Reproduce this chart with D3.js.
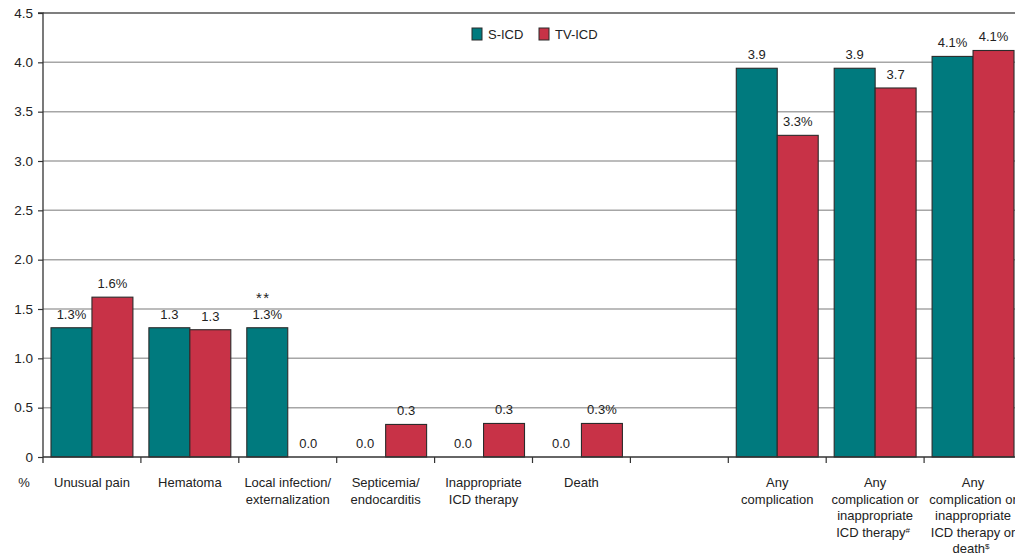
<!DOCTYPE html>
<html>
<head>
<meta charset="utf-8">
<script src="https://cdn.jsdelivr.net/npm/d3@7"></script>
<style>
  html, body { margin: 0; padding: 0; background: #fff; }
  svg { display: block; font-family: "Liberation Sans", Arial, Helvetica, sans-serif; }
</style>
</head>
<body>
<svg id="chart" width="1015" height="557"></svg>
<script>
// Complication rates (%) by outcome, S-ICD vs TV-ICD
const categories = [
  ["Unusual pain"],
  ["Hematoma"],
  ["Local infection/", "externalization"],
  ["Septicemia/", "endocarditis"],
  ["Inappropriate", "ICD therapy"],
  ["Death"],
  [],
  ["Any", "complication"],
  ["Any", "complication or", "inappropriate", "ICD therapy"],
  ["Any", "complication or", "inappropriate", "ICD therapy or", "death"]
];
// footnote mark appended to the last line of a category label
const footnotes = ["", "", "", "", "", "", "", "", "#", "$"];

const series = ["S-ICD", "TV-ICD"];
const sIcd  = [1.31, 1.31, 1.31, 0.0, 0.0, 0.0, null, 3.94, 3.94, 4.06];
const tvIcd = [1.62, 1.29, 0.0, 0.33, 0.34, 0.34, null, 3.26, 3.74, 4.12];
// whether the value label carries a "%" sign
const sPct  = [true, false, true, false, false, false, false, false, false, true];
const tvPct = [true, false, false, false, false, true, false, true, false, true];
// significance marks above bars
const sMarks = ["", "", "**", "", "", "", "", "", "", ""];

const yTicks = [0, 0.5, 1.0, 1.5, 2.0, 2.5, 3.0, 3.5, 4.0, 4.5];

const colors = { "S-ICD": "#007a7e", "TV-ICD": "#c83247" };

const svg = d3.select("#chart");
const margin = { left: 43, top: 13, bottom: 457 };
const step = 97.9;
const right = margin.left + step * categories.length;

const x = d3.scaleBand()
  .domain(d3.range(categories.length))
  .range([margin.left, right])
  .paddingInner(0).paddingOuter(0);

const xs = d3.scaleBand()
  .domain(series)
  .range([0, x.bandwidth()])
  .paddingInner(0)
  .paddingOuter(0.195);

const y = d3.scaleLinear().domain([0, 4.5]).range([margin.bottom, margin.top]);

// horizontal grid
svg.append("g")
  .selectAll("line")
  .data(yTicks.filter(d => d > 0))
  .join("line")
  .attr("x1", margin.left).attr("x2", right)
  .attr("y1", d => y(d)).attr("y2", d => y(d))
  .attr("stroke", d => d === 4.5 ? "#555" : "#a6a6a6")
  .attr("stroke-width", 1.5);

// y axis
const yAxis = svg.append("g")
  .attr("transform", `translate(${margin.left},0)`)
  .call(d3.axisLeft(y).tickValues(yTicks).tickSize(5).tickPadding(5)
    .tickFormat(d => d === 0 ? "0" : d3.format(".1f")(d)));
yAxis.select(".domain").attr("stroke", "#333").attr("stroke-width", 1.3)
  .attr("d", `M-5,${y(4.5)}H0V${margin.bottom + 6}`);
yAxis.selectAll(".tick line").attr("stroke", "#333").attr("stroke-width", 1.2);
yAxis.selectAll(".tick text").attr("fill", "#222").style("font-size", "13.5px")
  .style("font-family", "Liberation Sans, Arial, sans-serif");

// bars
const rows = categories.map((c, i) => ({ i, values: [
  { s: "S-ICD", v: sIcd[i], pct: sPct[i], mark: sMarks[i] },
  { s: "TV-ICD", v: tvIcd[i], pct: tvPct[i], mark: "" }
]}));

const groups = svg.append("g").selectAll("g")
  .data(rows)
  .join("g")
  .attr("transform", d => `translate(${x(d.i)},0)`);

groups.selectAll("rect")
  .data(d => d.values.filter(v => v.v !== null && v.v > 0))
  .join("rect")
  .attr("x", d => xs(d.s))
  .attr("width", xs.bandwidth())
  .attr("y", d => y(d.v))
  .attr("height", d => y(0) - y(d.v))
  .attr("fill", d => colors[d.s])
  .attr("stroke", "#2b2b2b")
  .attr("stroke-width", 1.1);

// value labels
groups.selectAll("text.val")
  .data(d => d.values.filter(v => v.v !== null))
  .join("text")
  .attr("class", "val")
  .attr("x", d => xs(d.s) + xs.bandwidth() / 2)
  .attr("y", d => y(d.v) - 9)
  .attr("text-anchor", "middle")
  .attr("fill", "#222")
  .style("font-size", "13px")
  .text(d => d3.format(".1f")(d.v) + (d.pct ? "%" : ""));

groups.selectAll("text.mark")
  .data(d => d.values.filter(v => v.mark))
  .join("text")
  .attr("class", "mark")
  .attr("x", d => xs(d.s) + xs.bandwidth() / 2 - 4)
  .attr("y", d => y(d.v) - 25)
  .attr("text-anchor", "middle")
  .attr("fill", "#222")
  .style("font-size", "15px")
  .style("letter-spacing", "1.5px")
  .text(d => d.mark);

// x axis baseline and category separators
const bounds = d3.range(categories.length + 1).map(i => margin.left + i * x.step());
svg.append("line")
  .attr("x1", margin.left).attr("x2", right)
  .attr("y1", margin.bottom).attr("y2", margin.bottom)
  .attr("stroke", "#333").attr("stroke-width", 1.3);
svg.append("g").selectAll("line")
  .data(bounds.slice(1))
  .join("line")
  .attr("x1", d => d).attr("x2", d => d)
  .attr("y1", margin.bottom).attr("y2", margin.bottom + 6)
  .attr("stroke", "#333").attr("stroke-width", 1.2);

// category labels
const catLabels = svg.append("g").selectAll("text")
  .data(categories.map((lines, i) => ({ lines, i })))
  .join("text")
  .attr("text-anchor", "middle")
  .attr("fill", "#222")
  .style("font-size", "13px");

catLabels.each(function(d) {
  const t = d3.select(this);
  const cx = x(d.i) + x.bandwidth() / 2;
  d.lines.forEach((line, k) => {
    const last = k === d.lines.length - 1;
    const ts = t.append("tspan")
      .attr("x", cx)
      .attr("y", 487 + k * 16.6)
      .text(line);
    if (last && footnotes[d.i]) {
      ts.attr("dx", -2);
      t.append("tspan")
        .attr("dy", -4)
        .style("font-size", "8px")
        .text(footnotes[d.i]);
    }
  });
});

svg.append("text")
  .attr("x", 24).attr("y", 487)
  .attr("text-anchor", "middle")
  .attr("fill", "#222")
  .style("font-size", "13px")
  .text("%");

// legend
const legend = svg.append("g").attr("transform", "translate(472,28)");
const legX = [0, 67];
series.forEach((s, i) => {
  const g = legend.append("g").attr("transform", `translate(${legX[i]},0)`);
  g.append("rect").attr("width", 10).attr("height", 12)
    .attr("fill", colors[s]).attr("stroke", "#2b2b2b").attr("stroke-width", 1);
  g.append("text").attr("x", 16).attr("y", 11)
    .attr("fill", "#222").style("font-size", "13px").text(s);
});
</script>
</body>
</html>
